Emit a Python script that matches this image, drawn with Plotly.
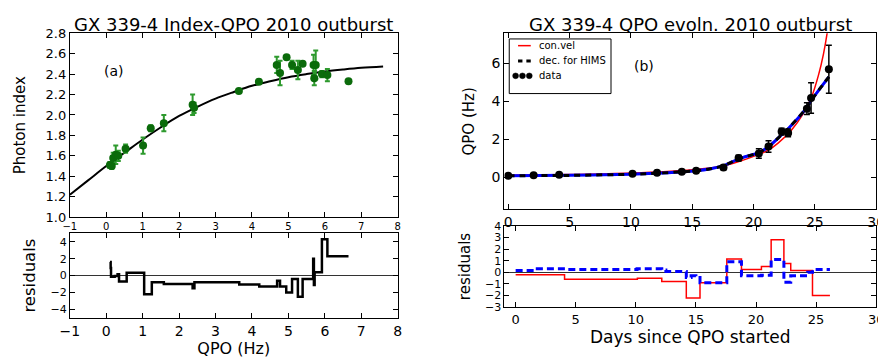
import plotly.graph_objects as go

# ---------------- Panel (a): photon index vs QPO ----------------
qpo_a = [0.10, 0.15, 0.19, 0.26, 0.33, 0.53, 1.01, 1.22, 1.58, 2.37, 2.41, 3.64, 4.19,
         4.68, 4.77, 4.95, 5.10, 5.26, 5.39, 5.69, 5.71, 5.75, 5.92, 6.07, 6.65]
index_a = [1.51, 1.50, 1.58, 1.61, 1.60, 1.67, 1.70, 1.87, 1.92, 2.10, 2.07, 2.235, 2.325,
           2.49, 2.41, 2.565, 2.49, 2.44, 2.50, 2.49, 2.36, 2.49, 2.40, 2.39, 2.33]
index_err = [0.03, 0.03, 0.05, 0.09, 0.05, 0.04, 0.08, 0.03, 0.08, 0.10, 0.05, 0.02, 0.02,
             0.08, 0.12, 0.02, 0.04, 0.09, 0.02, 0.10, 0.07, 0.14, 0.03, 0.06, 0.02]

fit_x = [-1.0, -0.5, 0.0, 0.5, 1.0, 1.5, 2.0, 2.5, 3.0, 3.5, 4.0, 4.5, 5.0, 5.5, 6.0, 6.5, 7.0, 7.6]
fit_y = [1.22, 1.36, 1.50, 1.63, 1.76, 1.88, 1.99, 2.08, 2.16, 2.225, 2.285, 2.33, 2.37, 2.40,
         2.425, 2.445, 2.462, 2.475]

res_a_x = [0.10, 0.12, 0.13, 0.23, 0.31, 0.35, 0.56, 1.04, 1.25, 1.58, 2.37, 2.42, 3.65, 4.20,
           4.69, 4.77, 4.94, 5.10, 5.26, 5.39, 5.68, 5.70, 5.72, 5.92, 6.07, 6.65]
res_a_y = [1.6, 0.9, -0.15, -0.05, 0.15, -0.7, 0.35, -2.2, -0.8, -1.0, -1.5, -0.8, -1.05, -1.3,
           -0.6, -1.3, -2.0, -0.4, -2.5, -0.4, 2.0, -1.1, 0.4, 4.3, 2.3, 2.3]

# ---------------- Panel (b): QPO evolution ----------------
days_b = [0.0, 2.07, 4.15, 10.13, 12.13, 14.15, 15.32, 17.55, 18.78, 20.43, 21.22, 22.29,
          22.82, 24.35, 24.69, 26.14]
qpo_b = [0.08, 0.10, 0.13, 0.19, 0.24, 0.29, 0.34, 0.51, 1.01, 1.25, 1.62, 2.41, 2.34, 3.62,
         4.18, 5.70]
qpo_err = [0.02, 0.02, 0.02, 0.03, 0.04, 0.04, 0.05, 0.12, 0.15, 0.25, 0.3, 0.18, 0.2, 0.31,
           0.8, 1.27]

conv_x = [0, 5, 10, 15, 17.5, 19.1, 20.16, 21.2, 22.0, 23.1, 24.0, 24.7, 25.3, 25.7, 26.0, 26.2]
conv_y = [0.10, 0.14, 0.22, 0.40, 0.60, 0.89, 1.14, 1.43, 1.80, 2.49, 3.30, 4.18, 5.40, 6.50, 7.60, 8.6]

hims_x = [0, 5, 10, 12, 14, 15.3, 16.5, 17.5, 18.8, 20.4, 21.2, 22.3, 22.8, 24.3, 24.7, 26.14]
hims_y = [0.08, 0.10, 0.16, 0.21, 0.28, 0.34, 0.45, 0.60, 0.97, 1.30, 1.60, 2.25, 2.55, 3.65,
          4.05, 5.30]

res_red_x = [0, 4.07, 10.13, 12.16, 14.2, 15.34, 17.57, 18.79, 20.45, 21.26, 22.32, 22.89, 24.7, 26.15]
res_red_y = [-0.2, -0.6, -0.5, -0.8, -2.2, -0.9, 1.15, 0.25, 0.5, 2.8, 0.75, 0.15, -2.0, -2.0]

res_blue_x = [0, 1.8, 4.1, 10.1, 12.16, 12.5, 14.2, 14.6, 15.0, 15.34, 17.57, 18.79, 20.45,
              21.26, 22.32, 22.89, 24.3, 24.7, 26.15]
res_blue_y = [0.15, 0.3, 0.25, 0.3, 0.2, 0.08, -0.45, -0.3, -0.45, -0.9, 0.9, -0.3, -0.25,
              1.1, -0.85, -0.3, 0.0, 0.25, 0.25]

legend_labels = ["con.vel", "dec. for HIMS", "data"]

FONT = "DejaVu Sans"
W, H = 886, 358


def px(xp):
    return xp / W


def py(yp):
    return 1 - yp / H


def tf(size):
    return dict(family=FONT, size=size, color="black")


fig = go.Figure()

# Panel (a) top
fig.add_trace(go.Scatter(x=fit_x, y=fit_y, mode="lines", line=dict(color="black", width=2, shape="spline"),
                         xaxis="x", yaxis="y", showlegend=False))
fig.add_trace(go.Scatter(x=qpo_a, y=index_a, mode="markers",
                         marker=dict(color="#0b6b0b", size=8),
                         error_y=dict(type="data", array=index_err, color="#2e9a2e", thickness=2, width=2.5),
                         xaxis="x", yaxis="y", showlegend=False))
# Panel (a) residuals
fig.add_trace(go.Scatter(x=res_a_x, y=res_a_y, mode="lines", line=dict(color="black", width=2.5, shape="hv"),
                         xaxis="x2", yaxis="y2", showlegend=False))

# Panel (b) top
fig.add_trace(go.Scatter(x=conv_x, y=conv_y, mode="lines", name=legend_labels[0],
                         line=dict(color="red", width=1.5, shape="spline"),
                         xaxis="x3", yaxis="y3", showlegend=False))
fig.add_trace(go.Scatter(x=hims_x, y=hims_y, mode="lines", line=dict(color="blue", width=3, shape="spline"),
                         xaxis="x3", yaxis="y3", showlegend=False))
fig.add_trace(go.Scatter(x=hims_x, y=hims_y, mode="lines", name=legend_labels[1],
                         line=dict(color="black", width=3, dash="6px,5px", shape="spline"),
                         xaxis="x3", yaxis="y3", showlegend=False))
fig.add_trace(go.Scatter(x=days_b, y=qpo_b, mode="markers", name=legend_labels[2],
                         marker=dict(color="black", size=8),
                         error_y=dict(type="data", array=qpo_err, color="black", thickness=1.5, width=3),
                         xaxis="x3", yaxis="y3", showlegend=False))

# Panel (b) residuals
fig.add_trace(go.Scatter(x=res_red_x, y=res_red_y, mode="lines", line=dict(color="red", width=1.5, shape="hv"),
                         xaxis="x4", yaxis="y4", showlegend=False))
fig.add_trace(go.Scatter(x=res_blue_x, y=res_blue_y, mode="lines",
                         line=dict(color="blue", width=3, dash="7px,4px", shape="hv"),
                         xaxis="x4", yaxis="y4", showlegend=False))

axis_common = dict(showline=True, linecolor="black", linewidth=1, mirror="allticks",
                   ticks="inside", ticklen=5, tickcolor="black", showgrid=False,
                   zeroline=False)

# legend drawn as a framed key (matplotlib style, 3 data points)
shapes = [
    dict(type="rect", xref="paper", yref="paper", x0=px(502), x1=px(606), y0=py(82), y1=py(25),
         line=dict(color="black", width=1), fillcolor="white", layer="above"),
    dict(type="line", xref="paper", yref="paper", x0=px(511), x1=px(524), y0=py(32), y1=py(32),
         line=dict(color="red", width=1.5), layer="above"),
    dict(type="line", xref="paper", yref="paper", x0=px(511), x1=px(515.5), y0=py(48), y1=py(48),
         line=dict(color="black", width=3), layer="above"),
    dict(type="line", xref="paper", yref="paper", x0=px(519.5), x1=px(524), y0=py(48), y1=py(48),
         line=dict(color="black", width=3), layer="above"),
]
for cx in (508.5, 515.5, 522.5):
    shapes.append(dict(type="circle", xref="paper", yref="paper", x0=px(cx - 3), x1=px(cx + 3),
                       y0=py(63.5 + 3), y1=py(63.5 - 3), fillcolor="black",
                       line=dict(color="black", width=0.5), layer="above"))

annotations = [
    dict(text="GX 339-4 Index-QPO 2010 outburst", x=px(220), y=py(10), xref="paper",
         yref="paper", showarrow=False, font=tf(18), xanchor="center", yanchor="middle"),
    dict(text="GX 339-4 QPO evoln. 2010 outburst", x=px(687), y=py(10), xref="paper",
         yref="paper", showarrow=False, font=tf(18), xanchor="center", yanchor="middle"),
    dict(text="(a)", x=0.22, y=2.43, xref="x", yref="y", showarrow=False, font=tf(14)),
    dict(text="(b)", x=11.05, y=5.85, xref="x3", yref="y3", showarrow=False, font=tf(14)),
]
for lab, ly in zip(legend_labels, (32, 48, 63.5)):
    annotations.append(dict(text=lab, x=px(530), y=py(ly), xref="paper", yref="paper",
                            showarrow=False, xanchor="left", yanchor="middle", font=tf(10)))

fig.update_layout(
    width=W, height=H, autosize=False,
    margin=dict(l=0, r=0, t=0, b=0),
    paper_bgcolor="white", plot_bgcolor="white",
    font=dict(family=FONT, color="black"),
    showlegend=False,
    xaxis=dict(axis_common, domain=[px(53), px(388)], range=[-1, 8], dtick=1, anchor="y",
               tickfont=tf(10)),
    yaxis=dict(axis_common, domain=[py(211), py(19)], range=[1.0, 2.8], dtick=0.2, anchor="x",
               tickformat=".1f", tickfont=tf(13),
               title=dict(text="Photon index", font=tf(15), standoff=16)),
    xaxis2=dict(axis_common, domain=[px(53), px(388)], range=[-1, 8], dtick=1, anchor="y2",
                tickfont=tf(14),
                title=dict(text="QPO (Hz)", font=tf(16), standoff=0)),
    yaxis2=dict(axis_common, domain=[py(316), py(228)], range=[-5, 5], dtick=2, anchor="x2",
                zeroline=True, zerolinecolor="#333", zerolinewidth=1,
                tickfont=tf(11),
                title=dict(text="residuals", font=tf(16.5), standoff=10)),
    xaxis3=dict(axis_common, domain=[px(497), px(877)], range=[-0.32, 30], dtick=5, anchor="y3",
                tickfont=tf(14)),
    yaxis3=dict(axis_common, domain=[py(203), py(19)], range=[-1.7, 7.6], dtick=2, anchor="x3",
                tickfont=tf(14),
                title=dict(text="QPO (Hz)", font=tf(15), standoff=13)),
    xaxis4=dict(axis_common, domain=[px(497), px(877)], range=[-0.94, 30], dtick=5, anchor="y4",
                tickfont=tf(13),
                title=dict(text="Days since QPO started", font=tf(17), standoff=0)),
    yaxis4=dict(axis_common, domain=[py(305), py(220)], range=[-3, 4], dtick=1, anchor="x4",
                zeroline=True, zerolinecolor="#333", zerolinewidth=1,
                tickfont=tf(11),
                title=dict(text="residuals", font=tf(15), standoff=10)),
    shapes=shapes,
    annotations=annotations,
)

fig.write_html("out.html")
